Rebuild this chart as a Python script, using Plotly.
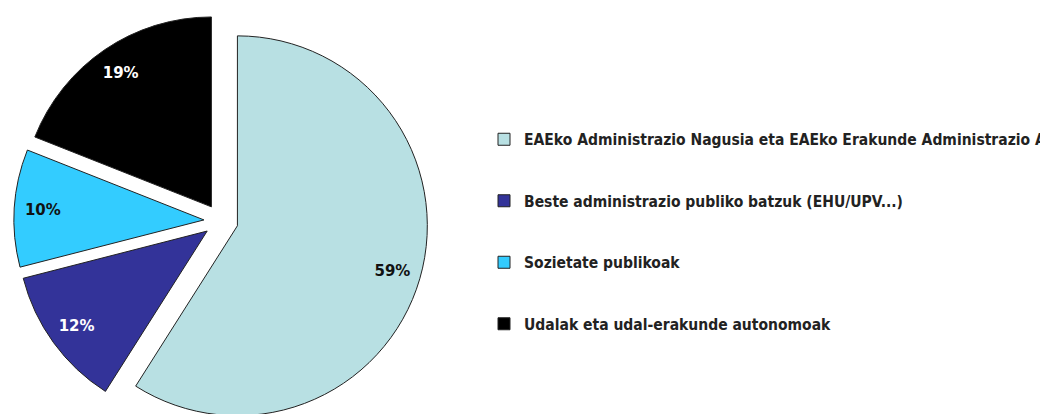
import plotly.graph_objects as go

categories = [
    "EAEko Administrazio Nagusia eta EAEko Erakunde Administrazio Autonomoak",
    "Beste administrazio publiko batzuk (EHU/UPV...)",
    "Sozietate publikoak",
    "Udalak eta udal-erakunde autonomoak",
]
values = [59, 12, 10, 19]
colors = ["#B8E0E3", "#333399", "#33CCFF", "#000000"]
label_colors = ["#111111", "#FFFFFF", "#111111", "#FFFFFF"]

pull = [0.09] * len(values)
pie_domain = dict(x=[0.0057, 0.4008], y=[0, 1])

# pad legend entries vertically (blank line above and below each label)
legend_labels = [
    "&nbsp;<br><span style='font-size:15.5px'>" + c + "</span><br>&nbsp;"
    for c in categories
]

fig = go.Figure()

# main pie (slices + legend)
fig.add_trace(
    go.Pie(
        labels=legend_labels,
        values=values,
        sort=False,
        direction="clockwise",
        rotation=0,
        pull=pull,
        marker=dict(colors=colors, line=dict(color="#222222", width=1)),
        textinfo="none",
        domain=pie_domain,
        customdata=categories,
        hovertemplate="%{customdata}: %{value}%<extra></extra>",
    )
)

# transparent ring carrying the percentage labels near the outer edge
fig.add_trace(
    go.Pie(
        labels=legend_labels,
        values=values,
        sort=False,
        direction="clockwise",
        rotation=0,
        pull=pull,
        hole=0.7,
        marker=dict(colors=["rgba(0,0,0,0)"] * len(values), line=dict(width=0)),
        texttemplate="%{percent:.0%}",
        textposition="inside",
        insidetextorientation="horizontal",
        insidetextfont=dict(family="DejaVu Sans", size=15, weight="bold", color=label_colors),
        domain=pie_domain,
        showlegend=False,
        hoverinfo="skip",
    )
)

fig.update_layout(
    width=1048,
    height=420,
    margin=dict(l=0, r=0, t=6, b=0, autoexpand=False),
    paper_bgcolor="white",
    plot_bgcolor="white",
    showlegend=True,
    legend=dict(
        x=0.4542,
        y=0.4746,
        xanchor="left",
        yanchor="middle",
        font=dict(family="DejaVu Sans Condensed", size=15, weight="bold", color="#222222"),
        bgcolor="rgba(0,0,0,0)",
    ),
)

fig.write_html("out.html")
